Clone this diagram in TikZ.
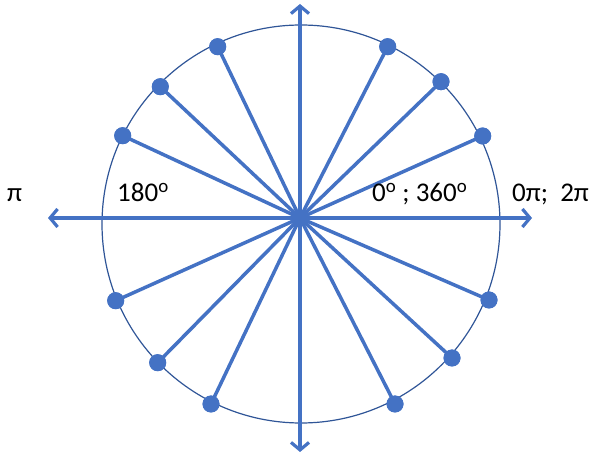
\documentclass[tikz,border=0pt]{standalone}
\usepackage{fontspec}
\setmainfont{Carlito}
\usetikzlibrary{arrows.meta}
\definecolor{raycol}{RGB}{68,114,196}
\definecolor{rimcol}{RGB}{47,85,151}
\begin{document}
\begin{tikzpicture}[x=1pt,y=-1pt,
  ray/.style={draw=raycol,line width=3.5pt},
  dot/.style={circle,fill=raycol,inner sep=0pt,minimum size=17pt},
  axisline/.style={draw=raycol,line width=3.2pt,-{Straight Barb[length=7.5pt,width=18pt]}},
  lbl/.style={anchor=base west,inner sep=0pt,font=\fontsize{27}{31}\selectfont}]
\useasboundingbox (0,0) rectangle (595,454);
\draw[rimcol,line width=1.2pt] (301,224) circle[radius=199pt];
\coordinate (O) at (300,218);
\coordinate (L) at (48,218);
\coordinate (R) at (532,218);
\coordinate (T) at (300,4);
\coordinate (B) at (300,452);
\node[dot] (d1) at (482.7,136) {};
\node[dot] (d2) at (441,81.7) {};
\node[dot] (d3) at (387.7,46.7) {};
\node[dot] (d4) at (217.7,46.7) {};
\node[dot] (d5) at (160.3,86.7) {};
\node[dot] (d6) at (122.7,135.7) {};
\node[dot] (d7) at (115.7,300.7) {};
\node[dot] (d8) at (157.7,362.7) {};
\node[dot] (d9) at (211,404) {};
\node[dot] (d10) at (395,404) {};
\node[dot] (d11) at (452,358) {};
\node[dot] (d12) at (489,300) {};
\foreach \i in {1,...,12} {\draw[ray] (O) -- (d\i.center);}
\foreach \i in {1,...,12} {\fill[raycol] (d\i) circle[radius=8.5pt];}
\draw[axisline] (O) -- (L);
\draw[axisline] (O) -- (R);
\draw[axisline] (O) -- (T);
\draw[axisline] (O) -- (B);
\node[lbl] (pi) at (7,202) {π};
\node[lbl] (a180) at (117,202) {180\textsuperscript{o}};
\node[lbl] (a0) at (372,202) {0\textsuperscript{o} ; 360\textsuperscript{o}};
\node[lbl] (p0) at (512,202) {0π;\ \ 2π};
\end{tikzpicture}
\end{document}
